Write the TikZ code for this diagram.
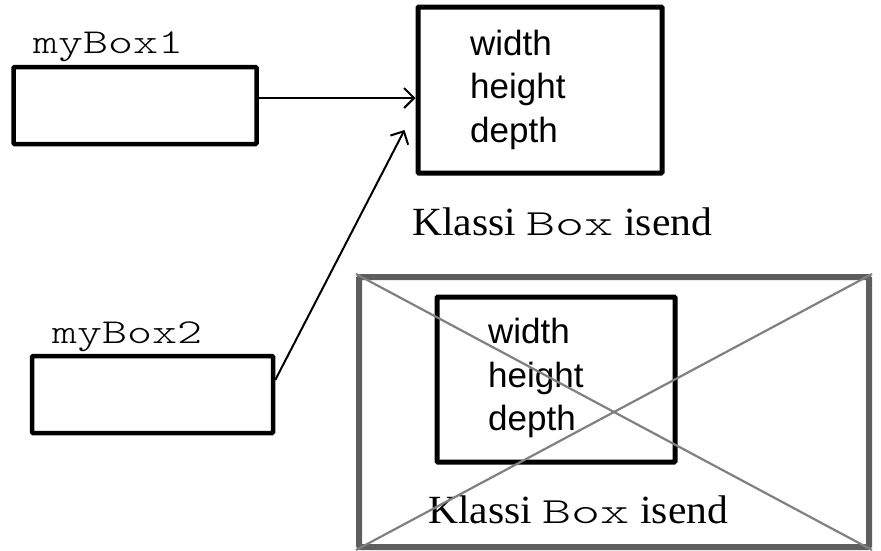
\documentclass[tikz,border=0pt]{standalone}
\usepackage{fontspec}
\setmainfont[FakeStretch=1.04]{Liberation Serif}
\newfontfamily\sansfnt{Liberation Sans}
\newfontfamily\labelmono[FakeStretch=1.36]{Latin Modern Mono Light}
\newfontfamily\boxmono[FakeStretch=1.5]{Latin Modern Mono Light}
\usetikzlibrary{arrows.meta}
\definecolor{outergray}{HTML}{5E5E5E}
\definecolor{crossgray}{HTML}{808080}
\tikzset{
  refbox/.style={draw=black, line width=4.5pt, rounded corners=1pt, inner sep=0pt, fill=white},
  objbox/.style={draw=black, line width=5pt, rounded corners=1pt, inner sep=0pt},
  outerbox/.style={draw=outergray, line width=6pt, rounded corners=1.5pt, inner sep=0pt},
  crossline/.style={draw=crossgray, line width=2.2pt},
  fieldtxt/.style={anchor=base west, inner sep=0pt, font=\sansfnt\fontsize{35}{42}\selectfont},
  vartxt/.style={anchor=base west, inner sep=0pt, font=\labelmono\fontsize{35}{42}\selectfont},
  classtxt/.style={anchor=base west, inner sep=0pt, font=\fontsize{40}{48}\selectfont},
  refarrow/.style={draw=black, line width=2pt, -{Straight Barb[length=10pt,width=20pt,line width=2pt]}}
}
\begin{document}
\begin{tikzpicture}[x=1pt,y=-1pt]
\useasboundingbox (0,0) rectangle (881,550);
% outer (destroyed) object
\node[outerbox, minimum width=510pt, minimum height=270pt] (outer) at (614,412) {};
% inner object
\node[objbox, minimum width=238pt, minimum height=165pt] (inner) at (556,379.5) {};
\node[fieldtxt] (iw) at (488,343) {width};
\node[fieldtxt] (ih) at (488,387) {height};
\node[fieldtxt] (id) at (488,430) {depth};
\node[classtxt] (ik) at (428,523) {Klassi {\boxmono\fontsize{37}{46}\selectfont Box} isend};
\draw[crossline] (outer.north west) -- (outer.south east);
\draw[crossline] (outer.south west) -- (outer.north east);
% live object
\node[objbox, minimum width=244pt, minimum height=166pt] (obj) at (540,90) {};
\node[fieldtxt] (ow) at (470,55) {width};
\node[fieldtxt] (oh) at (470,98) {height};
\node[fieldtxt] (od) at (470,142) {depth};
\node[classtxt] (ok) at (412,235) {Klassi {\boxmono\fontsize{37}{46}\selectfont Box} isend};
% variables
\node[refbox, minimum width=243pt, minimum height=77pt] (b1) at (135,105.5) {};
\node[vartxt] (l1) at (33,53) {myBox1};
\node[refbox, minimum width=241pt, minimum height=77pt] (b2) at (152.5,394.5) {};
\node[vartxt] (l2) at (52,343) {myBox2};
% references
\coordinate (t2) at ([xshift=-11pt, yshift=-40pt]obj.west);
\draw[refarrow] ([yshift=7.5pt]b1.east) -- ([yshift=-8pt]obj.west);
\draw[refarrow] ([yshift=14.5pt]b2.east) -- (t2);
\end{tikzpicture}
\end{document}
